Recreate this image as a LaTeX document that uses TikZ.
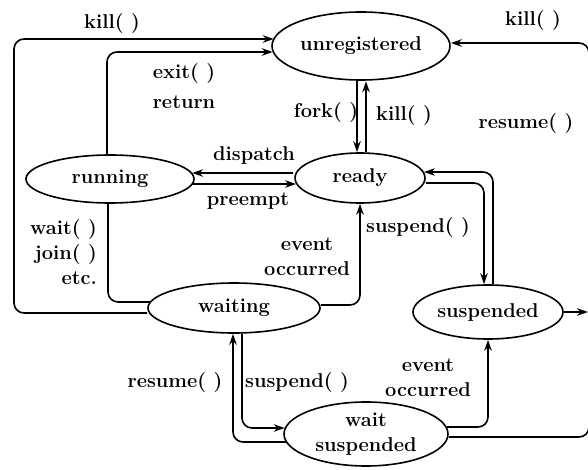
\documentclass[tikz,border=0pt]{standalone}
\usetikzlibrary{shapes.geometric,arrows.meta,backgrounds}
\begin{document}
\begin{tikzpicture}[x=1pt,y=-1pt,
  state/.style={draw,ellipse,line width=1.6pt,fill=white,inner sep=0pt,
    font=\fontsize{20}{24}\selectfont\bfseries,align=center},
  lbl/.style={font=\fontsize{20}{25}\selectfont\bfseries,inner sep=0pt},
  conn/.style={line width=1.6pt,rounded corners=10pt},
  arr/.style={conn,-{Stealth[length=11pt,width=7.5pt]}}]
\useasboundingbox (0,0) rectangle (588,470);
% states
\node[state,minimum width=178pt,minimum height=68pt] (unreg) at (361,46) {unregistered};
\node[state,minimum width=130pt,minimum height=50pt] (ready) at (360,178) {ready};
\node[state,minimum width=168pt,minimum height=48pt] (running) at (110,179) {running};
\node[state,minimum width=172pt,minimum height=50pt] (waiting) at (234,308) {waiting};
\node[state,minimum width=150pt,minimum height=54pt] (susp) at (488,312) {suspended};
\node[state,minimum width=164pt,minimum height=64pt,font=\fontsize{20}{25}\selectfont\bfseries] (wsusp) at (366,434) {wait\\suspended};
\coordinate (redge) at (588,312);
% connectors
\begin{scope}[on background layer]
\draw[arr] ([yshift=-5pt]waiting.west) -- (14,313) |- ([xshift=2.5pt,yshift=7pt]unreg.west);
\draw[arr] ([xshift=-3pt]running.north) |- ([xshift=1.5pt,yshift=-6pt]unreg.west);
\draw[arr] ([xshift=-4pt]unreg.south) -- ([xshift=-3pt]ready.north);
\draw[arr] ([xshift=6pt]ready.north) -- ([xshift=5pt,yshift=-0.5pt]unreg.south);
\draw[arr] ([xshift=-1.3pt,yshift=5pt]ready.west) -- ([xshift=-2.7pt,yshift=6pt]running.east);
\draw[arr] ([xshift=-1.8pt,yshift=-5pt]running.east) -- ([xshift=1.9pt,yshift=-6pt]ready.west);
\draw[conn] ([xshift=-2pt]running.south) |- ([xshift=4.5pt,yshift=6pt]waiting.west);
\draw[arr] ([yshift=3pt]waiting.east) -| (ready.south);
\draw[arr] ([yshift=-5pt]ready.east) -| ([xshift=-4pt]susp.north);
\draw[arr] ([xshift=5pt]susp.north) |- ([xshift=-1.9pt,yshift=6pt]ready.east);
\draw[arr] (susp.east) -- (redge);
\draw[arr] ([yshift=-3pt]wsusp.east) -| (589,43) -- ([yshift=3pt]unreg.east);
\draw[arr] ([xshift=2.6pt,yshift=-8pt]wsusp.west) -| ([xshift=-1pt]waiting.south);
\draw[arr] ([xshift=8pt]waiting.south) |- ([xshift=1.5pt,yshift=6pt]wsusp.west);
\draw[arr] ([xshift=-2pt,yshift=7pt]wsusp.east) -| (susp.south);
\end{scope}
% labels
\node[lbl] (l1) at (112,24) {kill( )};
\node[lbl] (l2) at (184,74) {exit( )};
\node[lbl] (l3) at (184,102) {return};
\node[lbl] (l4) at (326,113) {fork( )};
\node[lbl] (l5) at (404,116) {kill( )};
\node[lbl] (l6) at (254,156) {dispatch};
\node[lbl] (l7) at (248,201) {preempt};
\node[lbl] (l8) at (526,124) {resume( )};
\node[lbl] (l9) at (533,21) {kill( )};
\node[lbl] (l10) at (418,228) {suspend( )};
\node[lbl,align=right,anchor=east] (l11) at (97,252) {wait( )\\join( )\\etc.};
\node[lbl,align=center] (l12) at (307,257) {event\\occurred};
\node[lbl] (l13) at (175,383) {resume( )};
\node[lbl] (l14) at (297,383) {suspend( )};
\node[lbl,align=center] (l15) at (428,378) {event\\occurred};
\end{tikzpicture}
\end{document}
